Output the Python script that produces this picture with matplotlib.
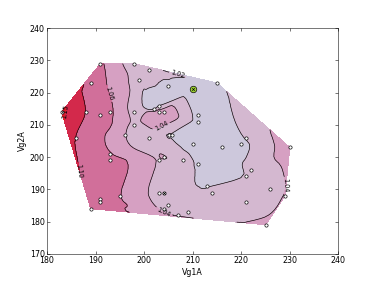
import matplotlib
matplotlib.use("Agg")
import matplotlib.pyplot as plt
import matplotlib.tri as mtri
import numpy as np

# Scattered measurement points (Vg1A, Vg2A) and the ratio value at each
vg1 = [191.0, 198.0, 201.0, 199.0, 189.0, 205.0, 215.0, 183.0, 188.0, 193.0,
       191.0, 198.0, 202.0, 203.0, 203.0, 204.0, 211.0, 211.0, 198.0, 201.0,
       205.2, 205.8, 210.0, 186.0, 196.0, 193.0, 193.0, 203.0, 204.0, 208.0,
       211.0, 203.0, 204.0, 195.0, 191.0, 191.0, 189.0, 204.0, 205.0, 207.0,
       209.0, 213.0, 214.0, 216.0, 220.0, 221.0, 222.0, 221.0, 226.0, 229.0,
       221.0, 225.0, 230.0, 210.0]
vg2 = [229.0, 229.0, 227.0, 224.0, 223.0, 222.0, 223.0, 214.0, 214.0, 214.0,
       213.0, 214.0, 215.0, 216.0, 214.0, 214.0, 213.0, 211.0, 210.0, 206.0,
       207.0, 207.0, 204.0, 206.0, 207.0, 201.0, 199.0, 199.0, 200.0, 199.0,
       198.0, 189.0, 189.0, 188.0, 187.0, 186.0, 184.0, 184.0, 185.0, 182.0,
       183.0, 191.0, 189.0, 203.0, 204.0, 206.0, 196.0, 194.0, 190.0, 188.0,
       186.0, 179.0, 203.0, 221.0]
ratio = [1.064, 1.031, 1.030, 1.032, 1.080, 1.015, 1.019, 1.160, 1.099, 1.064,
         1.080, 1.035, 1.019, 1.019, 1.052, 1.052, 1.016, 1.016, 1.037, 1.030,
         1.019, 1.019, 1.010, 1.099, 1.041, 1.062, 1.075, 1.039, 1.041, 1.030,
         1.018, 1.035, 1.035, 1.061, 1.080, 1.080, 1.085, 1.037, 1.033, 1.038,
         1.032, 1.019, 1.030, 1.010, 1.015, 1.021, 1.025, 1.021, 1.030, 1.041,
         1.030, 1.045, 1.052, 1.012]

best_point = (210.0, 221.0)
crossed_point = (204.0, 189.0)

levels = [0.90, 1.02, 1.04, 1.06, 1.10, 1.15, 1.30]
line_levels = [1.02, 1.04, 1.06, 1.10, 1.15]
fill_colors = ["#cdc8dc", "#d4b8d0", "#d6a0c2", "#d16f9a", "#d3294b", "#dd1c28"]

xticks = [180, 190, 200, 210, 220, 230, 240]
yticks = [170, 180, 190, 200, 210, 220, 230, 240]

plt.rcParams.update({
    "font.size": 12,
    "xtick.direction": "in", "ytick.direction": "in",
    "xtick.top": True, "ytick.right": True,
    "xtick.major.size": 4, "ytick.major.size": 4,
})

fig = plt.figure(figsize=(8, 6), dpi=47)
ax = fig.add_axes([0.125, 0.1, 0.775, 0.8])

tri = mtri.Triangulation(vg1, vg2)
z = np.asarray(ratio)
refiner = mtri.UniformTriRefiner(tri)
interp = mtri.CubicTriInterpolator(tri, z, kind="geom")
tri_r, z_r = refiner.refine_field(z, triinterpolator=interp, subdiv=3)

ax.tricontourf(tri_r, z_r, levels=levels, colors=fill_colors)
cs = ax.tricontour(tri_r, z_r, levels=line_levels, colors="black", linewidths=1.0)
ax.clabel(cs, fmt="%.2f", fontsize=10, inline=True,
          manual=[(207.0, 225.6), (193.0, 219.8), (203.3, 210.4),
                  (204.7, 184.9), (229.1, 191.2), (187.4, 193.6),
                  (184.7, 213.9)])

ax.plot(vg1[:-1], vg2[:-1], "o", ms=5, mfc="white", mec="black", mew=1.0,
        linestyle="none")
ax.plot([crossed_point[0]], [crossed_point[1]], "x", ms=4, mec="black", mew=1.0)
ax.plot([best_point[0]], [best_point[1]], "o", ms=10, mfc="yellowgreen",
        mec="black", mew=1.0)
ax.plot([best_point[0]], [best_point[1]], "x", ms=4, mec="black", mew=1.0)

ax.set_xlim(180, 240)
ax.set_ylim(170, 240)
ax.set_xticks(xticks)
ax.set_yticks(yticks)
ax.set_xlabel("Vg1A")
ax.set_ylabel("Vg2A")

fig.savefig("out.png", dpi=47, facecolor="white")
